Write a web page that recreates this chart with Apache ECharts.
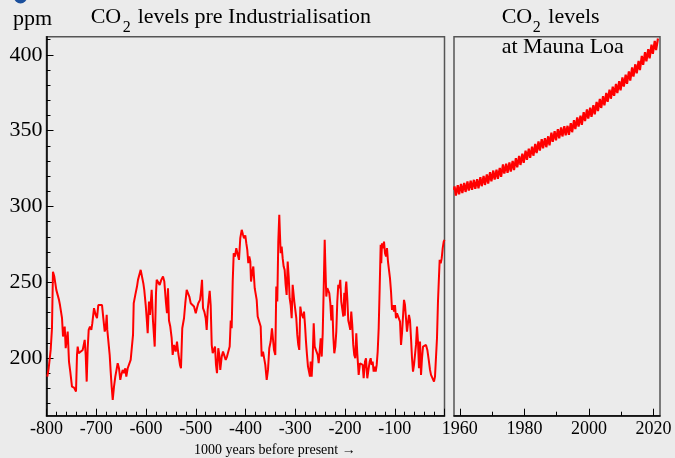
<!DOCTYPE html>
<html>
<head>
<meta charset="utf-8">
<script src="https://cdn.jsdelivr.net/npm/echarts@6/dist/echarts.min.js"></script>
<style>
html,body{margin:0;padding:0;background:#ebebeb;}
#c{width:675px;height:458px;}
</style>
</head>
<body>
<div id="c"></div>
<script>
// Ice-core CO2 (kyr before present, ppm)
var iceAge = [-798.4,-795.6,-791.6,-789,-787,-784.3,-782.3,-780.3,-777.5,-774.9,-772.9,-770.9,-768.8,-766.8,-763.4,-761.4,-757.4,-754.8,-752.2,-748.8,-744.7,-740.7,-738.7,-737.3,-735.3,-731.3,-727.2,-723.2,-721.2,-719.2,-717.2,-715.2,-712.6,-709.9,-707.9,-704.5,-701.1,-698.5,-695.9,-692.5,-688.4,-685.8,-683,-681,-679,-677.8,-675.8,-673,-671,-669,-666.9,-664.3,-661.7,-658.9,-656.9,-654.3,-651.7,-649.7,-646.8,-644.2,-641.6,-639.6,-636.8,-633.6,-630.8,-628.1,-626.1,-624.7,-621.5,-618.1,-616.1,-613.5,-610.7,-608,-605.4,-603.5,
-600.6,-598.6,-596.6,-594,-592,-588.6,-586,-582.5,-579.9,-578.5,-575.3,-572.5,-569.3,-565.8,-563.2,-559.8,-557.8,-555.8,-553.8,-551.2,-548.4,-546.4,-543.7,-540.3,-537.7,-535.1,-531.7,-529.7,-527.1,-523.6,-521,-518.2,-515.6,-512.9,-510.1,-506.9,-503.5,-500,-497.5,-494.9,-491.4,-489.4,-487.4,-485.4,-482.8,-480,-478,-476,-474,-472,-470,-467.9,-465.9,-463.3,-461.3,-459.3,-457.3,-454.7,-452.7,-450.7,-447.8,-445.2,-442.6,-439.8,-437.2,-434.6,-431.8,-429.7,-427.8,-425.7,-423.7,-421.1,-418.5,-415.1,-413.1,-410.5,-407.6,-405,-403,-400.4,
-398.4,-396.4,-394.4,-392.4,-390.3,-388.9,-386.3,-384.3,-381.5,-379.5,-377.5,-375.5,-372.3,-369.5,-367.5,-364.8,-362.2,-360.2,-357.4,-354.8,-352.2,-349.4,-346.8,-344.7,-342.7,-340.1,-338.1,-336.1,-334.1,-332.1,-330.7,-329.3,-327.3,-325.3,-323.3,-321.3,-319.3,-317.3,-315.2,-313.2,-311.2,-309.2,-307.2,-305.2,-303.2,-301.9,-299.9,-297.9,-295.9,-293.9,-291.9,-289.8,-287.8,-285.8,-283.8,-282.4,-280.4,-278.4,-276.4,-274.4,-272.4,-270.4,-269,-267,-264.9,-262.9,-260.9,-258.9,-256.9,-254.9,-252.9,-250.9,-248.8,-246.8,-244.8,-242.8,-240.8,-239.5,-237.6,-235.6,-233.6,-231.6,-229.5,-227.5,-225.5,-223.5,-221.5,-219.5,-217.5,-215.5,-213.5,-211.5,-209.5,-207.5,-205.5,-203.4,-201.4,-200.4,-198.6,-197.4,
-195.4,-193.4,-191.4,-189.4,-187.4,-185.4,-183.4,-181.4,-179.3,-177.3,-175.3,-172.5,-169.9,-166.5,-164.5,-162.5,-159.8,-157.8,-155.2,-152.4,-150.4,-148.4,-146.4,-144.4,-142.4,-140.3,-138.3,-136.3,-134.3,-132.3,-130.3,-128.3,-127.1,-125.7,-123.6,-121.6,-119.6,-117.6,-115.6,-113.6,-111.6,-109.6,-107.5,-105.5,-103.5,-101.5,-99.5,-97.5,-95.5,-93.5,-91.5,-89.4,-87.4,-85.4,-83.4,-81.4,-79.4,-77.4,-75.4,-73.4,-71.4,-69.3,-67.3,-65.3,-63.3,-61.3,-59.3,-57.3,-55.3,-53.3,-51.3,-49.2,-47.2,-45.2,-43.2,-40.6,-37.2,-34.5,-31.7,-29.1,-27.1,-25.1,-23.1,-21.1,-19.1,-17.1,-15.1,-13.1,-11.1,-9.7,-7.6,-5.6,-3.6,-1.6,0];
var icePpm = [187.8,193.3,205.4,219.7,257,253.8,249.4,245,245,238.4,235,235,226.3,214.2,220.8,206.5,217.5,197.7,191.1,181.2,180.5,177.9,202.1,207.6,203.2,204.3,205.4,212,202.1,184.5,206.5,218.6,220.8,218.6,223,232.9,228.5,226.3,235,236.2,235,226.3,217.5,219.7,228.5,218.6,217.5,202.1,191.1,181.2,172.4,181.2,187.8,186.7,196.6,193.3,185.6,188.9,192.2,190,193.3,187.8,193.3,192.2,198.8,199.9,215.3,236.2,241.7,247.2,251.6,252.7,258.2,258.2,249.4,245,
235,226.3,216.4,237.3,228.5,245,224.8,207.6,242.8,251.6,251.6,248.3,251.6,253.8,250.5,236.2,229.6,246.1,224.8,220.8,213.1,202.1,208.7,204.3,210.9,203.2,195.5,193.3,219.7,226.3,236.2,245,246.1,240.6,236.2,237.3,234,229.6,233,236.2,238.4,243.9,251.6,233,230.7,226.3,218.6,231.8,231.8,244.3,235,208.7,203.2,204.3,207.6,195.5,190,206.5,202.1,192.2,201,204.3,204.3,198.8,201,199.9,207.6,224.8,219.7,250.5,269.2,267,272.5,273.6,264.8,279.1,284.6,281.3,279,281,
275.8,271.4,262.6,267,263.7,250.5,257,260.4,246.1,245,238.4,227.4,228.5,220.8,201,204.3,204.3,195.5,185.6,192.2,206.5,210.9,219.7,218.6,205.4,202.1,247.2,237.3,276.8,294.5,281.3,269.2,273.6,265.9,260.4,258.2,248.3,241.7,263.7,253.8,239.5,235,226.3,248.3,249.4,237.3,236.2,226.3,215.3,208.7,205.4,234,229.6,230.7,226.3,230.7,221.9,210.9,202.1,194.4,193.3,187.8,197.7,187.8,201,223,207.6,206.5,207.6,202.1,196.6,195.5,213.1,201,216.4,246.1,278,261.5,240.6,246.1,245,242.8,236.2,224.8,235,214.2,203.2,207.6,217.5,237.3,248.3,246.1,251.6,237.3,236.2,227.4,243,228,246.1,250.5,
239.5,224.8,221.9,218.6,230.7,221.9,208.7,202.1,199.9,216.4,203.2,188.9,196.6,197.7,195.5,186.7,197.7,199.9,186.7,193.3,197.7,199.9,195.5,197.7,191.1,194.4,191.1,195.5,204.3,219.7,246.1,274.7,262.6,275.8,272.5,276.8,269.2,267,272.5,263.7,262.6,252.7,243.9,231.8,235,230.7,235,226.3,229.6,230.7,228.5,224,208.7,216.4,215.3,238.4,235,226.3,217.5,223,228.5,224.8,213.1,199.9,191.1,195.5,202.1,208.7,220.8,210.9,193.3,210.9,188.9,199.9,207.6,208.7,208.7,205.4,198.8,192.2,188.9,188.9,190,184.5,187.8,187.8,213.1,237.3,253.8,264.8,262.6,265.9,272.5,276.8,278];

// Mauna Loa: seasonal maximum and minimum for each year
var maunaYears = [1958,1959,1960,1961,1962,1963,1964,1965,1966,1967,1968,1969,1970,1971,1972,1973,1974,1975,1976,1977,1978,1979,1980,1981,1982,1983,1984,1985,1986,1987,1988,1989,1990,1991,1992,1993,1994,1995,1996,1997,1998,1999,2000,2001,2002,2003,2004,2005,2006,2007,2008,2009,2010,2011,2012,2013,2014,2015,2016,2017,2018,2019,2020,2021];
var maunaPeak = [313.2,314.0,314.9,315.6,316.5,317.0,317.6,318.0,319.4,320.2,321.1,322.6,323.7,324.3,325.5,327.7,328.2,329.1,330.0,331.8,333.4,334.8,336.8,338.1,339.5,341.2,342.9,344.4,345.1,346.3,348.7,349.7,351.0,352.2,353.0,353.2,355.0,357.0,358.7,359.9,362.3,364.0,365.2,366.8,369.0,371.0,372.7,375.0,377.1,379.0,380.8,382.6,385.1,386.9,389.1,391.7,393.8,396.0,399.4,401.8,403.7,406.7,409.2,410.8];
var maunaTrough = [307.2,308.0,308.9,309.6,310.5,311.0,311.6,312.0,313.4,314.2,315.1,316.6,317.7,318.3,319.5,321.7,322.2,323.1,324.0,325.8,327.4,328.8,330.8,332.1,333.5,335.2,336.9,338.4,339.1,340.3,342.7,343.7,345.0,346.2,347.0,347.2,349.0,351.0,352.7,353.9,356.3,358.0,359.2,360.8,363.0,365.0,366.7,369.0,371.1,373.0,374.8,376.6,379.1,380.9,383.1,385.7,387.8,390.0,393.4,395.8,397.7,400.7,403.2];
var maunaStart = [1958.2, 311.0];

var yMajor = [200,250,300,350,400];
var yMinor = [170,180,190,210,220,230,240,260,270,280,290,310,320,330,340,360,370,380,390,410];
var rightMajor = [1960,1980,2000,2020];
var rightMinor = [1970,1990,2010];

var iceData = iceAge.map(function(a,i){return [a, icePpm[i]];});
var maunaData = [maunaStart];
maunaYears.forEach(function(y,i){
  maunaData.push([y+0.37, maunaPeak[i]]);
  if (i < maunaTrough.length) maunaData.push([y+0.78, maunaTrough[i]]);
});

var FF = 'Liberation Serif';
var chart = echarts.init(document.getElementById('c'));
var g0 = {left:46.5, top:36.7, width:398, height:379};
var g1 = {left:454, top:36.7, width:206, height:379};
function grid(g){return {left:g.left, top:g.top, width:g.width, height:g.height, show:true, borderColor:'#555', borderWidth:1.5, backgroundColor:'transparent', containLabel:false};}
var YMIN = 162, YMAX = 412;
function plain(v){return String(v);}

chart.setOption({
  backgroundColor:'#ebebeb',
  animation:false,
  grid:[grid(g0), grid(g1)],
  xAxis:[
    {gridIndex:0, type:'value', position:'bottom', min:-800, max:0, interval:100,
     axisLine:{show:true, onZero:false, lineStyle:{color:'#000', width:1.5}},
     axisTick:{show:true, inside:true, length:7, lineStyle:{color:'#000', width:1}},
     minorTick:{show:true, splitNumber:5, length:4, lineStyle:{color:'#000', width:1}},
     axisLabel:{fontFamily:FF, fontSize:18, color:'#000', margin:5, showMaxLabel:false, formatter:plain},
     splitLine:{show:false}, minorSplitLine:{show:false}},
    {gridIndex:1, type:'value', position:'bottom', min:1958.2, max:2022,
     axisLine:{show:true, onZero:false, lineStyle:{color:'#000', width:1.5}},
     axisTick:{show:true, inside:true, length:7, customValues:rightMajor, lineStyle:{color:'#000', width:1}},
     axisLabel:{fontFamily:FF, fontSize:18, color:'#000', margin:5, customValues:rightMajor, formatter:plain},
     splitLine:{show:false}},
    {gridIndex:1, type:'value', position:'bottom', min:1958.2, max:2022,
     axisLine:{show:false, onZero:false},
     axisTick:{show:true, inside:true, length:4, customValues:rightMinor, lineStyle:{color:'#000', width:1}},
     axisLabel:{show:false}, splitLine:{show:false}}
  ],
  yAxis:[
    {gridIndex:0, type:'value', position:'left', min:YMIN, max:YMAX,
     axisLine:{show:true, onZero:false, lineStyle:{color:'#000', width:1.5}},
     axisTick:{show:true, inside:true, length:7, customValues:yMajor, lineStyle:{color:'#000', width:1}},
     axisLabel:{fontFamily:FF, fontSize:22, color:'#000', margin:4, customValues:yMajor},
     splitLine:{show:false}},
    {gridIndex:0, type:'value', position:'left', min:YMIN, max:YMAX,
     axisLine:{show:false, onZero:false},
     axisTick:{show:true, inside:true, length:4, customValues:yMinor, lineStyle:{color:'#000', width:1}},
     axisLabel:{show:false}, splitLine:{show:false}},
    {gridIndex:1, type:'value', position:'left', min:YMIN, max:YMAX,
     axisLine:{show:false}, axisTick:{show:false}, axisLabel:{show:false}, splitLine:{show:false}}
  ],
  series:[
    {type:'line', xAxisIndex:0, yAxisIndex:0, data:iceData, showSymbol:false, symbol:'none',
     lineStyle:{color:'#ff0000', width:2}, z:3},
    {type:'line', xAxisIndex:1, yAxisIndex:2, data:maunaData, showSymbol:false, symbol:'none',
     lineStyle:{color:'#ff0000', width:2.2}, z:3}
  ],
  graphic:[
    {type:'circle', shape:{cx:20.5, cy:-3, r:6.5}, style:{fill:'#1b4f9c'}},
    {type:'text', x:13, y:19.3, style:{text:'ppm', font:'22px "Liberation Serif"', fill:'#000', verticalAlign:'middle'}},
    {type:'text', x:90.7, y:17.5, style:{text:'CO', font:'22px "Liberation Serif"', fill:'#000', verticalAlign:'middle'}},
    {type:'text', x:122.7, y:28, style:{text:'2', font:'16px "Liberation Serif"', fill:'#000', verticalAlign:'middle'}},
    {type:'text', x:137.7, y:17.5, style:{text:'levels pre Industrialisation', font:'22px "Liberation Serif"', fill:'#000', verticalAlign:'middle'}},
    {type:'text', x:501.7, y:17.5, style:{text:'CO', font:'22px "Liberation Serif"', fill:'#000', verticalAlign:'middle'}},
    {type:'text', x:532.7, y:28, style:{text:'2', font:'16px "Liberation Serif"', fill:'#000', verticalAlign:'middle'}},
    {type:'text', x:548.3, y:17.5, style:{text:'levels', font:'22px "Liberation Serif"', fill:'#000', verticalAlign:'middle'}},
    {type:'text', x:501.7, y:46.8, z:10, style:{text:'at Mauna Loa', font:'22px "Liberation Serif"', fill:'#000', verticalAlign:'middle'}},
    {type:'text', x:194, y:450, style:{text:'1000 years before present \u2192', font:'14px "Liberation Serif"', fill:'#000', verticalAlign:'middle'}}
  ]
});
</script>
</body>
</html>
